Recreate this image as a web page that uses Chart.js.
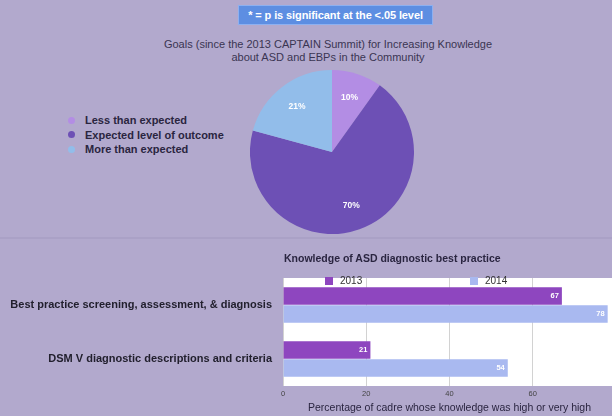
<!DOCTYPE html>
<html>
<head>
<meta charset="utf-8">
<script src="https://cdn.jsdelivr.net/npm/chart.js@4/dist/chart.umd.min.js"></script>
<style>
  html, body { margin: 0; padding: 0; width: 612px; height: 416px; overflow: hidden; background: #b2a9cd; }
  body { font-family: "Liberation Sans", Arial, sans-serif; }
  #page { position: relative; width: 612px; height: 416px; overflow: hidden; }
  .abs { position: absolute; }
  #badge { left: 238px; top: 5px; width: 195px; height: 20px; background: #5d8ee2; border: 1px solid #8db0f0;
           box-sizing: border-box; color: #fff; font-weight: bold; font-size: 11px; line-height: 18px;
           text-align: center; white-space: nowrap; letter-spacing: -0.1px; }
  #pieTitle { left: 78px; width: 500px; top: 38px; text-align: center; font-size: 11px; line-height: 13px; color: #3a3552; }
  #rule { left: 0; top: 237px; width: 612px; height: 2px; background: #aaa1c6; }
  #pieWrap { left: 250px; top: 70px; width: 164px; height: 164px; }
  #pieLegend { left: 66px; top: 113px; font-weight: bold; font-size: 11px; color: #2a2540; }
  #pieLegend div { height: 14.5px; line-height: 14px; position: relative; padding-left: 19px; white-space: nowrap; }
  #pieLegend span.dot { position: absolute; left: 2px; top: 3.5px; width: 7px; height: 7px; border-radius: 50%; }
  #barTitle { left: 284px; top: 252px; font-weight: bold; font-size: 10.5px; color: #2a2540; white-space: nowrap; }
  #barWrap { left: 0; top: 250px; width: 640px; height: 166px; }
  #barLegend { left: 325px; top: 276px; font-size: 10px; color: #333; }
  #barLegend div { position: absolute; top: 0; height: 10px; line-height: 10px; white-space: nowrap; padding-left: 15px; }
  #barLegend span.box { position: absolute; left: 0; top: 1px; width: 8px; height: 8px; }
</style>
</head>
<body>
<div id="page">
  <div id="badge" class="abs">* = p is significant at the &lt;.05 level</div>
  <div id="pieTitle" class="abs">Goals (since the 2013 CAPTAIN Summit) for Increasing Knowledge<br>about ASD and EBPs in the Community</div>
  <div id="pieLegend" class="abs"></div>
  <div id="pieWrap" class="abs"><canvas id="pie"></canvas></div>
  <div id="rule" class="abs"></div>
  <div id="barWrap" class="abs"><canvas id="bar"></canvas></div>
  <div id="barTitle" class="abs">Knowledge of ASD diagnostic best practice</div>
  <div id="barLegend" class="abs"></div>
</div>
<script>
// Outcome goals (percent of respondents)
const outcomeLabels = ['Less than expected', 'Expected level of outcome', 'More than expected'];
const outcomeValues = [10, 70, 21];
const outcomeColors = ['#b38de4', '#6d50b5', '#92bdea'];

// Knowledge of ASD diagnostic best practice (percent high or very high)
const knowledgeCategories = ['Best practice screening, assessment, & diagnosis', 'DSM V diagnostic descriptions and criteria'];
const seriesNames = ['2013', '2014'];
const values2013 = [67, 21];
const values2014 = [78, 54];
const seriesColors = ['#8e46bf', '#a9b9f0'];
const xAxisMax = 80;
const xAxisStep = 20;
const xAxisTitle = 'Percentage of cadre whose knowledge was high or very high';

const FONT = '"Liberation Sans", Arial, sans-serif';

// Pie legend (HTML)
const pieLegend = document.getElementById('pieLegend');
outcomeLabels.forEach((name, i) => {
  const row = document.createElement('div');
  const dot = document.createElement('span');
  dot.className = 'dot';
  dot.style.background = outcomeColors[i];
  row.appendChild(dot);
  row.appendChild(document.createTextNode(name));
  pieLegend.appendChild(row);
});

// Bar legend (HTML)
const barLegend = document.getElementById('barLegend');
const legendOffsets = [0, 145];
seriesNames.forEach((name, i) => {
  const item = document.createElement('div');
  item.style.left = legendOffsets[i] + 'px';
  const box = document.createElement('span');
  box.className = 'box';
  box.style.background = seriesColors[i];
  item.appendChild(box);
  item.appendChild(document.createTextNode(name));
  barLegend.appendChild(item);
});

// Percent labels drawn inside each slice
const sliceLabels = {
  id: 'sliceLabels',
  afterDatasetsDraw(chart) {
    const ctx = chart.ctx;
    const meta = chart.getDatasetMeta(0);
    ctx.save();
    ctx.font = 'bold 8.5px ' + FONT;
    ctx.fillStyle = '#ffffff';
    ctx.textAlign = 'center';
    ctx.textBaseline = 'middle';
    meta.data.forEach((arc, i) => {
      const p = arc.getProps(['x', 'y', 'startAngle', 'endAngle', 'outerRadius'], true);
      const mid = (p.startAngle + p.endAngle) / 2;
      const r = p.outerRadius * 0.7;
      ctx.fillText(outcomeValues[i] + '%', p.x + Math.cos(mid) * r, p.y + Math.sin(mid) * r);
    });
    ctx.restore();
  }
};

new Chart(document.getElementById('pie'), {
  type: 'pie',
  data: {
    labels: outcomeLabels,
    datasets: [{ data: outcomeValues, backgroundColor: outcomeColors, borderWidth: 0 }]
  },
  options: {
    responsive: true,
    maintainAspectRatio: false,
    animation: false,
    plugins: { legend: { display: false }, tooltip: { enabled: false } }
  },
  plugins: [sliceLabels]
});

// White plotting area behind the bars
const plotBackground = {
  id: 'plotBackground',
  beforeDraw(chart) {
    const a = chart.chartArea;
    const ctx = chart.ctx;
    ctx.save();
    ctx.fillStyle = '#ffffff';
    ctx.fillRect(a.left, a.top, chart.width - a.left, a.bottom - a.top);
    ctx.restore();
  }
};

// Value labels at the end of each bar
const barValues = {
  id: 'barValues',
  afterDatasetsDraw(chart) {
    const ctx = chart.ctx;
    ctx.save();
    ctx.font = 'bold 7.5px ' + FONT;
    ctx.fillStyle = '#ffffff';
    ctx.textAlign = 'right';
    ctx.textBaseline = 'middle';
    chart.data.datasets.forEach((ds, di) => {
      chart.getDatasetMeta(di).data.forEach((bar, i) => {
        ctx.fillText(String(ds.data[i]), bar.x - 3, bar.y);
      });
    });
    ctx.restore();
  }
};

new Chart(document.getElementById('bar'), {
  type: 'bar',
  data: {
    labels: knowledgeCategories,
    datasets: [
      { label: seriesNames[0], data: values2013, backgroundColor: seriesColors[0] },
      { label: seriesNames[1], data: values2014, backgroundColor: seriesColors[1] }
    ]
  },
  options: {
    indexAxis: 'y',
    responsive: true,
    maintainAspectRatio: false,
    animation: false,
    categoryPercentage: 0.66,
    barPercentage: 0.98,
    layout: { padding: { top: 28, right: 24, left: 0, bottom: 0 } },
    plugins: { legend: { display: false }, tooltip: { enabled: false } },
    scales: {
      x: {
        min: 0,
        max: xAxisMax,
        afterFit(s) { s.height = 30; },
        ticks: { stepSize: xAxisStep, padding: 3, color: '#444', font: { size: 7.5, family: FONT } },
        grid: { color: '#d2d2d2', drawTicks: false },
        border: { display: false },
        title: { display: true, text: xAxisTitle, color: '#2a2540', padding: { top: 2, bottom: 2 },
                 font: { size: 10.5, family: FONT } }
      },
      y: {
        afterFit(s) { s.width = 283; },
        ticks: { padding: 11, color: '#22202e', font: { size: 11, weight: 'bold', family: FONT } },
        grid: { display: false, drawTicks: false },
        border: { display: false }
      }
    }
  },
  plugins: [plotBackground, barValues]
});
</script>
</body>
</html>
